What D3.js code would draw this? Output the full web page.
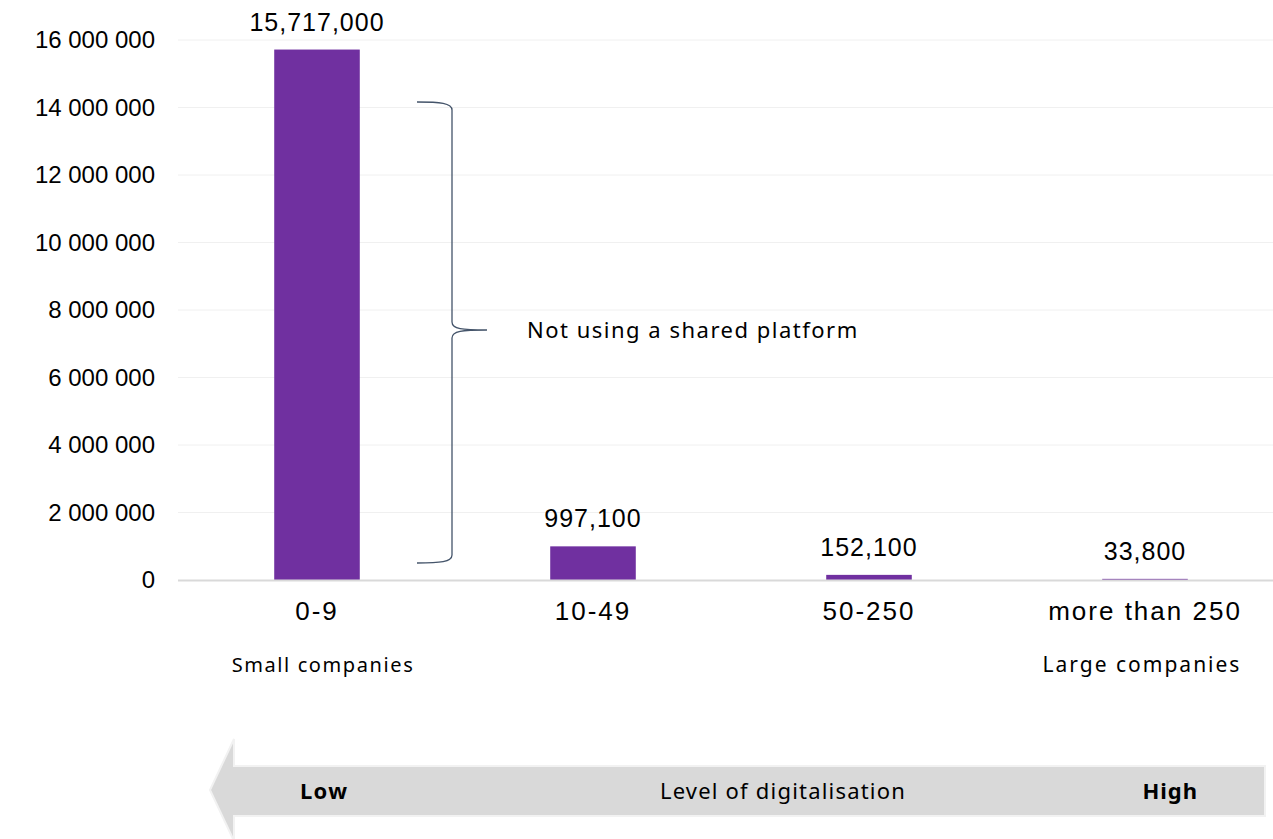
<!DOCTYPE html>
<html>
<head>
<meta charset="utf-8">
<script src="https://cdn.jsdelivr.net/npm/d3@7"></script>
<style>
  body { margin: 0; background: #fff; }
  svg { display: block; }
</style>
</head>
<body>
<svg id="chart" width="1273" height="839"></svg>
<script>
// data
let categories = ["0-9", "10-49", "50-250", "more than 250"];
let companies = [15717000, 997100, 152100, 33800];
let yTicks = [0, 2000000, 4000000, 6000000, 8000000, 10000000, 12000000, 14000000, 16000000];
let sizeNotes = ["Small companies", "Large companies"];
let bracketNote = "Not using a shared platform";
let arrowLabels = ["Low", "Level of digitalisation", "High"];

let chart = d3.select("#chart");
let font = "'Liberation Sans', Arial, sans-serif";
let font2 = "'Noto Sans', 'Open Sans', sans-serif";

// scales
let x = d3.scaleBand()
    .domain(categories)
    .range([179, 1283])
    .paddingInner(0.69)
    .paddingOuter(0.345);

let y = d3.scaleLinear()
    .domain([0, 16000000])
    .range([580, 40]);

// gridlines
chart.append("g")
    .selectAll("line")
    .data(yTicks.slice(1))
    .enter()
    .append("line")
    .attr("x1", 178)
    .attr("x2", 1273)
    .attr("y1", d => y(d))
    .attr("y2", d => y(d))
    .attr("stroke", "#f0f0f0")
    .attr("stroke-width", 1);

// y axis (labels only)
let yAxis = d3.axisLeft(y)
    .tickValues(yTicks)
    .tickSize(0)
    .tickPadding(0)
    .tickFormat(d => d3.format(",")(d).replace(/,/g, " "));
let yAxisGroup = chart.append("g")
    .attr("transform", "translate(155,0)")
    .call(yAxis);
yAxisGroup.select(".domain").remove();
yAxisGroup.selectAll("text")
    .attr("font-family", font)
    .attr("font-size", "24px")
    .attr("fill", "#000");

// bars
chart.selectAll(".bar")
    .data(companies)
    .enter()
    .append("rect")
    .attr("class", "bar")
    .attr("x", (d, i) => x(categories[i]))
    .attr("y", d => y(d))
    .attr("width", x.bandwidth())
    .attr("height", d => y(0) - y(d))
    .attr("fill", "#7030a0");

// baseline
chart.append("line")
    .attr("x1", 178)
    .attr("x2", 1273)
    .attr("y1", y(0) + 0.5)
    .attr("y2", y(0) + 0.5)
    .attr("stroke", "#d9d9d9")
    .attr("stroke-width", 2);

// value labels
chart.selectAll(".val")
    .data(companies)
    .enter()
    .append("text")
    .attr("class", "val")
    .attr("x", (d, i) => x(categories[i]) + x.bandwidth() / 2)
    .attr("y", d => y(d) - 19)
    .attr("text-anchor", "middle")
    .attr("font-family", font)
    .attr("font-size", "25px")
    .attr("letter-spacing", "1px")
    .text(d => d3.format(",")(d));

// x axis labels
let xAxis = d3.axisBottom(x).tickSize(0).tickPadding(0);
let xAxisGroup = chart.append("g")
    .attr("transform", "translate(0," + 602 + ")")
    .call(xAxis);
xAxisGroup.select(".domain").remove();
xAxisGroup.selectAll("text")
    .attr("font-family", font)
    .attr("font-size", "26px")
    .attr("letter-spacing", "2px")
    .attr("fill", "#000")
    .attr("dy", "0.71em");

// small / large notes
chart.append("text")
    .text(sizeNotes[0])
    .attr("x", 323)
    .attr("y", 672)
    .attr("text-anchor", "middle")
    .attr("font-family", font2)
    .attr("font-size", "20px")
    .attr("letter-spacing", "1.6px");
chart.append("text")
    .text(sizeNotes[1])
    .attr("x", 1142)
    .attr("y", 672)
    .attr("text-anchor", "middle")
    .attr("font-family", font2)
    .attr("font-size", "21px")
    .attr("letter-spacing", "2px");

// curly bracket
let bx = 452, bTop = 102, bBot = 563, bMid = 330, bTip = 487;
let brace = d3.path();
brace.moveTo(417, bTop);
brace.bezierCurveTo(440, bTop, bx, bTop + 1, bx, bTop + 8);
brace.lineTo(bx, bMid - 8);
brace.bezierCurveTo(bx, bMid - 1, bx + 10, bMid, bTip, bMid);
brace.moveTo(bTip, bMid);
brace.bezierCurveTo(bx + 10, bMid, bx, bMid + 1, bx, bMid + 8);
brace.lineTo(bx, bBot - 8);
brace.bezierCurveTo(bx, bBot - 1, 440, bBot, 417, bBot);
chart.append("path")
    .attr("d", brace.toString())
    .attr("fill", "none")
    .attr("stroke", "#44546a")
    .attr("stroke-width", 1.3);

chart.append("text")
    .text(bracketNote)
    .attr("x", 527)
    .attr("y", 338)
    .attr("font-family", font2)
    .attr("font-size", "22px")
    .attr("letter-spacing", "1.5px");

// arrow
let arrow = d3.path();
arrow.moveTo(1265, 766);
arrow.lineTo(234, 766);
arrow.lineTo(234, 739);
arrow.lineTo(210, 790);
arrow.lineTo(234, 841);
arrow.lineTo(234, 816);
arrow.lineTo(1265, 816);
arrow.closePath();
chart.append("path")
    .attr("d", arrow.toString())
    .attr("fill", "#d9d9d9")
    .attr("stroke", "#f2f2f2")
    .attr("stroke-width", 2);

chart.append("text")
    .text(arrowLabels[0])
    .attr("x", 300)
    .attr("y", 799)
    .attr("font-family", font2)
    .attr("font-size", "22px")
    .attr("letter-spacing", "1.3px")
    .attr("font-weight", "bold");
chart.append("text")
    .text(arrowLabels[1])
    .attr("x", 783)
    .attr("y", 799)
    .attr("text-anchor", "middle")
    .attr("font-family", font2)
    .attr("font-size", "22px")
    .attr("letter-spacing", "1.2px");
chart.append("text")
    .text(arrowLabels[2])
    .attr("x", 1198)
    .attr("y", 799)
    .attr("text-anchor", "end")
    .attr("font-family", font2)
    .attr("font-size", "22px")
    .attr("letter-spacing", "1px")
    .attr("font-weight", "bold");
</script>
</body>
</html>
